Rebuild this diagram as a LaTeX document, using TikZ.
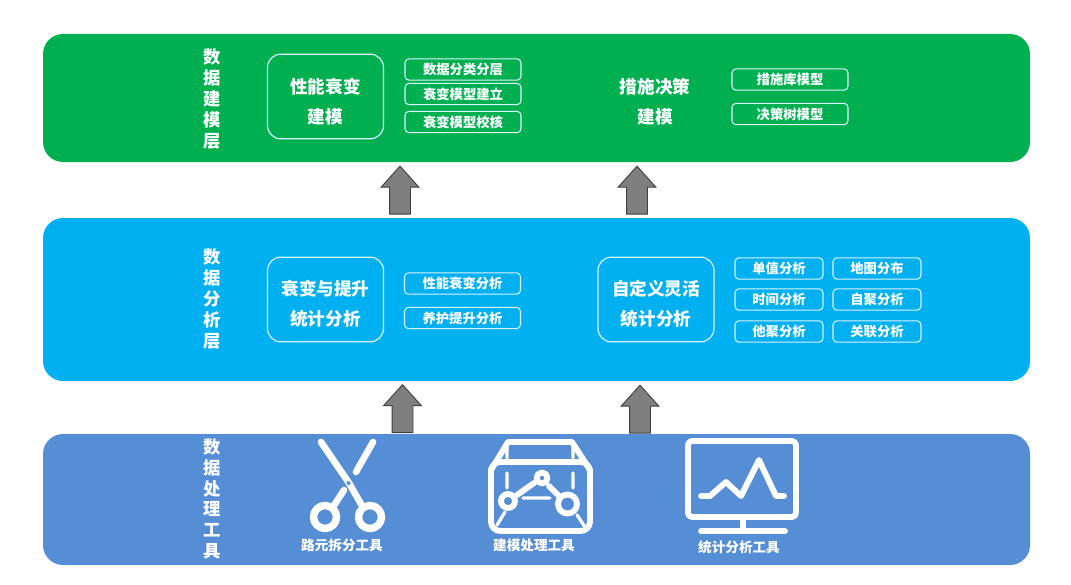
\documentclass[tikz,border=0pt]{standalone}
\usepackage{fontspec}
\setmainfont{Noto Sans CJK SC}
\usetikzlibrary{shapes.arrows}
\definecolor{bandgreen}{HTML}{00B050}
\definecolor{bandblue}{HTML}{00B0F0}
\definecolor{bandsteel}{HTML}{558ED5}
\definecolor{arrowgray}{HTML}{7F7F7F}
\tikzset{
  band/.style={rounded corners=15pt,draw=none},
  sidetext/.style={text=white,align=center,font=\fontsize{13}{15.6}\selectfont\bfseries,inner sep=0pt},
  bigbox/.style={draw=white!85!cyan,line width=0.9pt,rounded corners=10pt,
     minimum width=87pt,minimum height=63.5pt,inner sep=0pt},
  bigtext/.style={text=white,align=center,inner sep=0pt,font=\fontsize{13.2}{22.5}\selectfont\bfseries},
  smallbox/.style={draw=white!85!cyan,line width=0.8pt,rounded corners=3pt,text=white,inner sep=0pt,
     minimum width=87pt,minimum height=16pt,font=\fontsize{10}{11}\selectfont\bfseries},
  gridbox/.style={smallbox,minimum width=66pt},
  toolabel/.style={text=white,inner sep=0pt,font=\fontsize{10.2}{11}\selectfont\bfseries},
  uparrow/.style={single arrow,shape border rotate=90,draw=black!75,fill=arrowgray,line width=0.7pt,
     minimum height=36pt,single arrow head extend=6.3pt,single arrow tip angle=84,inner sep=7.5pt},
  icon/.style={draw=white,line width=4.4pt,line cap=round,line join=round},
  blade/.style={icon,line width=5pt},
  iconthin/.style={draw=white,line width=2.4pt,line cap=round}
}
\begin{document}
\begin{tikzpicture}[x=0.75pt,y=-0.75pt]
\useasboundingbox (0,0) rectangle (1071,585);
\fill[white] (0,0) rectangle (1071,585);
% bands
\fill[band,fill=bandgreen] (43,34) rectangle (1030,162);
\fill[band,fill=bandblue] (43,218) rectangle (1030,381);
\fill[band,fill=bandsteel] (43,434) rectangle (1030,565);
% side labels
\node[sidetext] (s1) at (212,99) {数\\据\\建\\模\\层};
\node[sidetext] (s2) at (212,299) {数\\据\\分\\析\\层};
\node[sidetext] (s3) at (212,499) {数\\据\\处\\理\\工\\具};
% top layer
\node[bigbox] (perf) at (325.5,96.5) {};
\node[bigtext] (perft) at (325.5,101.5) {性能衰变\\建模};
\node[smallbox] (a1) at (463,69.5) {数据分类分层};
\node[smallbox] (a2) at (463,94) {衰变模型建立};
\node[smallbox] (a3) at (463,122) {衰变模型校核};
\node[bigtext] (meas) at (655,102) {措施决策\\建模};
\node[smallbox] (b1) at (790,79.5) {措施库模型};
\node[smallbox] (b2) at (790,114) {决策树模型};
% middle layer
\node[bigbox] (dec) at (325.5,299.5) {};
\node[bigtext] (dect) at (325.5,304) {衰变与提升\\统计分析};
\node[smallbox] (c1) at (462.5,283.5) {性能衰变分析};
\node[smallbox] (c2) at (462.5,318) {养护提升分析};
\node[bigbox] (cus) at (656,299.5) {};
\node[bigtext] (cust) at (656,304) {自定义灵活\\统计分析};
\node[gridbox] (d1) at (779,268.5) {单值分析};
\node[gridbox] (d2) at (877,268.5) {地图分布};
\node[gridbox] (d3) at (779,299.5) {时间分析};
\node[gridbox] (d4) at (877,299.5) {自聚分析};
\node[gridbox] (d5) at (779,331.5) {他聚分析};
\node[gridbox] (d6) at (877,331.5) {关联分析};
% arrows
\node[uparrow] (u1) at (400,196) {};
\node[uparrow] (u2) at (637,196) {};
\node[uparrow] (u3) at (402.5,414.5) {};
\node[uparrow] (u4) at (640,415) {};
% scissors
\draw[blade] (321,442) -- (349,483) -- (361,504);
\draw[blade] (373,442) -- (356,472);
\draw[blade] (344,490) -- (333,507);
\draw[blade,line width=5.6pt] (325,517) circle (11.5);
\draw[blade,line width=5.6pt] (370,517) circle (11.5);
\fill[bandsteel] (348.5,483) circle (2);
% box icon
\draw[icon] (491,470) -- (508,442) -- (572,442) -- (590,470);
\draw[icon,rounded corners=7pt] (491,462) rectangle (590,531);
\draw[iconthin] (507,442) -- (507,458) (573,442) -- (573,458)
  (507,473) -- (507,488) (573,473) -- (573,488)
  (505,512) -- (497,525) (577,515) -- (585,527) (523,498) -- (550,498);
\draw[icon] (517,495) -- (534,483) (549,486) -- (560,497);
\draw[icon] (508,501) circle (7);
\draw[icon] (542,478) circle (5.5);
\draw[icon] (567.5,504) circle (9.5);
% monitor icon
\draw[icon,rounded corners=3pt] (688,441) rectangle (796,517);
\draw[icon] (743,517) -- (743,531) (701,531) -- (785,531);
\draw[icon] (701,496) -- (710,496) -- (726,482) -- (741,496) -- (759,460) -- (776,496) -- (784,496);
% tool labels
\node[toolabel] (t1) at (342,545) {路元拆分工具};
\node[toolabel] (t2) at (534,545) {建模处理工具};
\node[toolabel] (t3) at (739,547) {统计分析工具};
\end{tikzpicture}
\end{document}
